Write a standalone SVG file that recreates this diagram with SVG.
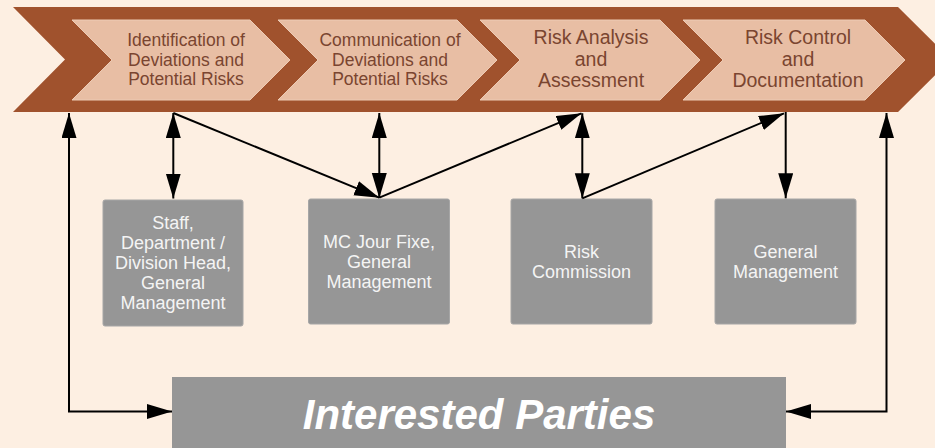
<svg xmlns="http://www.w3.org/2000/svg" width="935" height="448" viewBox="0 0 935 448">
<defs>
<marker id="ah" markerUnits="userSpaceOnUse" markerWidth="26" markerHeight="16" refX="25" refY="7.5" orient="auto-start-reverse" viewBox="0 0 26 16">
<path d="M0,0 L25,7.5 L0,15 z" fill="#000"/>
</marker>
<style>
.band{fill:#A0522D}
.chev{fill:#E8BEA4;stroke:#EDCBB5;stroke-width:1}
.ct{font-family:"Liberation Sans",Arial,sans-serif;fill:#7A4530;text-anchor:middle}
.box{fill:#969696;stroke:#A6A6A6;stroke-width:1}
.bt{font-family:"Liberation Sans",Arial,sans-serif;font-size:18px;fill:#F4F4F4;text-anchor:middle}
.ln{fill:none;stroke:#000;stroke-width:2}
</style>
</defs>
<rect x="0" y="0" width="935" height="448" fill="#FDEFE2"/>
<g id="band">
<polygon class="band" points="13,7 898,7 951,59.5 898,112 13,112 65,59.5"/>
</g>
<g id="step1">
<polygon class="chev" points="72,20 250,20 290,60 250,100 72,100 112,60"/>
<text class="ct" font-size="17.5" x="186" y="46">Identification of</text>
<text class="ct" font-size="17.5" x="186" y="65.5">Deviations and</text>
<text class="ct" font-size="17.5" x="186" y="84.5">Potential Risks</text>
</g>
<g id="step2">
<polygon class="chev" points="278,20 457,20 497,60 457,100 278,100 318,60"/>
<text class="ct" font-size="17.5" x="390" y="46">Communication of</text>
<text class="ct" font-size="17.5" x="390" y="65.5">Deviations and</text>
<text class="ct" font-size="17.5" x="390" y="84.5">Potential Risks</text>
</g>
<g id="step3">
<polygon class="chev" points="480,20 660,20 700,60 660,100 480,100 520,60"/>
<text class="ct" font-size="19.5" x="591" y="44">Risk Analysis</text>
<text class="ct" font-size="19.5" x="591" y="65.5">and</text>
<text class="ct" font-size="19.5" x="591" y="87">Assessment</text>
</g>
<g id="step4">
<polygon class="chev" points="683,20 865,20 905,60 865,100 683,100 723,60"/>
<text class="ct" font-size="19.5" x="798" y="44">Risk Control</text>
<text class="ct" font-size="19.5" x="798" y="65.5">and</text>
<text class="ct" font-size="19.5" x="798" y="87">Documentation</text>
</g>
<g id="box1">
<rect class="box" x="103" y="200" width="140" height="126" rx="2"/>
<text class="bt" x="173" y="228.5">Staff,</text>
<text class="bt" x="173" y="248.7">Department /</text>
<text class="bt" x="173" y="268.9">Division Head,</text>
<text class="bt" x="173" y="289.1">General</text>
<text class="bt" x="173" y="309.3">Management</text>
</g>
<g id="box2">
<rect class="box" x="308.5" y="199" width="141" height="125" rx="2"/>
<text class="bt" x="379" y="247.5">MC Jour Fixe,</text>
<text class="bt" x="379" y="268">General</text>
<text class="bt" x="379" y="288.3">Management</text>
</g>
<g id="box3">
<rect class="box" x="511" y="199" width="141" height="125" rx="2"/>
<text class="bt" x="581.5" y="257.7">Risk</text>
<text class="bt" x="581.5" y="277.7">Commission</text>
</g>
<g id="box4">
<rect class="box" x="715" y="199" width="141" height="125" rx="2"/>
<text class="bt" x="785.5" y="257.7">General</text>
<text class="bt" x="785.5" y="277.7">Management</text>
</g>
<g id="interested">
<rect x="172" y="377" width="614" height="80" fill="#969696"/>
<text x="479" y="428.5" font-family="'Liberation Sans',Arial,sans-serif" font-size="42" font-weight="bold" font-style="italic" fill="#FFFFFF" text-anchor="middle">Interested Parties</text>
</g>
<g id="connectors">
<polyline class="ln" points="69,113 69,411.5 172,411.5" marker-start="url(#ah)" marker-end="url(#ah)"/>
<polyline class="ln" points="886.5,113 886.5,411.5 786,411.5" marker-start="url(#ah)" marker-end="url(#ah)"/>
<line class="ln" x1="173.3" y1="113" x2="173.3" y2="198.5" marker-start="url(#ah)" marker-end="url(#ah)"/>
<line class="ln" x1="173.3" y1="113" x2="379.3" y2="197.7" marker-end="url(#ah)"/>
<line class="ln" x1="379.3" y1="113" x2="379.3" y2="198" marker-start="url(#ah)" marker-end="url(#ah)"/>
<line class="ln" x1="379.3" y1="197.7" x2="581.5" y2="113.3" marker-end="url(#ah)"/>
<line class="ln" x1="582.3" y1="113.3" x2="582.3" y2="198.3" marker-start="url(#ah)" marker-end="url(#ah)"/>
<line class="ln" x1="582.3" y1="198.3" x2="784" y2="113.3" marker-end="url(#ah)"/>
<line class="ln" x1="785.7" y1="112" x2="785.7" y2="198.3" marker-end="url(#ah)"/>
</g>
</svg>
